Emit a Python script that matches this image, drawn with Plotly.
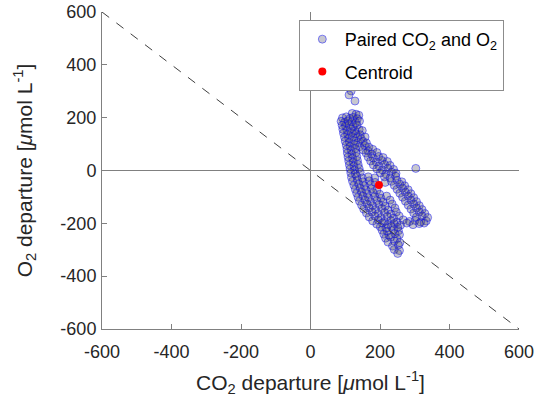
import plotly.graph_objects as go

# ---- data, units: umol/L ----
stray_points = [(117, 301), (111, 286), (128, 263), (303, 8)]

left_upper = [
    (120, 216), (131, 213), (139, 209),
    (92, 199), (103, 203), (113, 197), (123, 201), (135, 196),
    (88, 186), (98, 182), (108, 188), (119, 184), (130, 181), (141, 187),
    (91, 171), (101, 168), (111, 174), (123, 166), (134, 172),
    (93, 156), (105, 152), (116, 158), (128, 150), (140, 155), (149, 151),
    (95, 141), (107, 137), (118, 143), (131, 139), (143, 135),
    (98, 126), (110, 122), (121, 128), (135, 124), (146, 120), (157, 127),
    (100, 111), (112, 107), (125, 113), (137, 105), (151, 110), (161, 104),
    (103, 96), (114, 92), (127, 98), (141, 90), (156, 95), (168, 88),
    (105, 81), (117, 77), (129, 83), (151, 78), (166, 74), (179, 80),
]

left_middle = [
    (106, 66), (119, 62), (131, 68),
    (108, 51), (121, 47), (133, 53),
    (110, 36), (123, 32), (135, 38),
    (112, 21), (125, 17), (137, 23),
    (114, 6), (127, 2), (140, 8),
    (116, -9), (129, -13), (143, -7),
]

right_upper = [
    (160, 66), (176, 62), (191, 68),
    (166, 51), (181, 47), (196, 53), (209, 49),
    (173, 36), (189, 32), (205, 38), (221, 34),
    (181, 21), (197, 17), (213, 23), (229, 19),
    (191, 6), (207, 2), (223, 8), (239, 4),
    (201, -9), (217, -13), (233, -7), (246, -11),
    (213, -24), (229, -28), (245, -22),
    (185, -28), (215, -45),
]

lower_band = [
    (118, -26), (133, -22), (149, -28), (166, -24),
    (121, -41), (135, -37), (151, -43), (169, -39), (186, -45),
    (125, -56), (139, -52), (155, -58), (173, -54),
    (129, -71), (143, -67), (159, -73), (176, -69), (191, -75),
    (133, -86), (147, -82), (163, -88), (181, -84), (199, -90),
    (137, -101), (151, -97), (167, -103), (185, -99), (203, -105), (219, -97),
    (141, -116), (157, -112), (173, -118), (191, -114), (209, -120), (229, -112),
    (147, -131), (163, -127), (179, -133), (197, -129), (215, -135), (235, -127),
    (153, -146), (169, -142), (187, -148), (205, -144), (223, -150), (243, -142),
    (161, -161), (177, -157), (195, -163), (213, -159), (231, -165), (247, -157),
    (169, -176), (185, -172), (203, -178), (221, -174), (239, -180), (255, -172),
    (179, -191), (195, -187), (213, -193), (231, -189), (249, -195), (267, -187),
    (285, -193), (301, -189), (317, -195), (333, -191),
    (191, -203), (207, -199), (223, -205), (241, -201), (259, -207), (277, -199),
    (295, -205), (313, -201), (327, -199),
    (201, -213), (217, -217), (233, -211), (251, -215),
    (206, -226), (221, -230), (239, -224), (253, -228),
    (211, -241), (226, -245), (243, -239), (256, -243),
    (216, -256), (231, -252), (249, -258),
    (223, -271), (241, -267), (257, -273),
    (236, -286), (253, -282),
    (241, -299), (256, -303),
    (251, -314),
]

right_lower = [
    (233, -41), (249, -37), (263, -43),
    (241, -56), (257, -52), (271, -58),
    (249, -71), (265, -67), (281, -73),
    (257, -86), (273, -82), (289, -88),
    (265, -101), (281, -97), (297, -103),
    (273, -116), (289, -112), (305, -118),
    (281, -131), (297, -127), (313, -133),
    (289, -146), (305, -142), (321, -148),
    (297, -161), (313, -157), (329, -163),
    (305, -176), (321, -172), (337, -178),
]

centroid_x = [197]
centroid_y = [-55]

axis_range = [-600, 600]
tick_values = [-600, -400, -200, 0, 200, 400, 600]
tick_labels = ["-600", "-400", "-200", "0", "200", "400", "600"]

# ---- build ----
all_pts = stray_points + left_upper + left_middle + right_upper + lower_band + right_lower
px = [p[0] for p in all_pts]
py = [p[1] for p in all_pts]

FONT = "Liberation Sans, Arial, Helvetica, sans-serif"
AXC = "#808080"
TXT = "#262626"

fig = go.Figure()

fig.add_trace(go.Scatter(
    x=px, y=py, mode="markers",
    name="Paired CO<sub>2</sub> and O<sub>2</sub>",
    legendgroup="a",
    marker=dict(size=8, color="rgba(70,70,95,0.30)",
                line=dict(color="rgba(0,0,255,0.45)", width=1)),
))

fig.add_trace(go.Scatter(
    x=axis_range, y=[-axis_range[0], -axis_range[1]], mode="lines",
    showlegend=False, hoverinfo="skip",
    line=dict(color="#404040", width=1, dash="dash"),
))

fig.add_trace(go.Scatter(
    x=centroid_x, y=centroid_y, mode="markers", name="Centroid",
    legendgroup="b",
    marker=dict(size=8, color="#ff0000"),
))

axis_common = dict(
    range=axis_range, tickvals=tick_values, ticktext=tick_labels,
    showline=True, linecolor=AXC, linewidth=1, mirror=False,
    ticks="inside", ticklen=5, tickcolor=AXC, tickwidth=1,
    showgrid=False, zeroline=True, zerolinecolor=AXC, zerolinewidth=1,
    tickfont=dict(family=FONT, size=18, color=TXT),
    automargin=False,
)

fig.update_layout(
    width=537, height=405,
    margin=dict(l=102, r=18, t=12, b=76),
    paper_bgcolor="white", plot_bgcolor="white",
    font=dict(family=FONT, size=18, color=TXT),
    xaxis=dict(**axis_common, ticklabelstandoff=6,
               title=dict(text="CO<sub>2</sub> departure [<i>μ</i>mol L<sup>-1</sup>]",
                          font=dict(family=FONT, size=21, color=TXT),
                          standoff=14)),
    yaxis=dict(**axis_common, ticklabelstandoff=1,
               title=dict(text="O<sub>2</sub> departure [<i>μ</i>mol L<sup>-1</sup>]",
                          font=dict(family=FONT, size=21, color=TXT),
                          standoff=22)),
    legend=dict(x=0.472, y=0.975, xanchor="left", yanchor="top",
                bgcolor="white", bordercolor="#8c8c8c", borderwidth=1,
                font=dict(family=FONT, size=18, color="#000000"),
                tracegroupgap=6, itemwidth=35),
    showlegend=True,
)

fig.write_html("out.html")
